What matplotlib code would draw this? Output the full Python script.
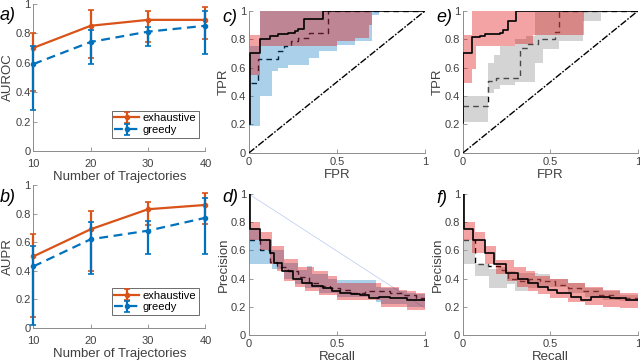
import numpy as np
import matplotlib
matplotlib.use("Agg")
from matplotlib import pyplot as plt

plt.rcParams['font.family'] = ['Liberation Sans', 'DejaVu Sans']

# ---- panels a/b: AUROC / AUPR vs number of trajectories ----
n_traj = [10, 20, 30, 40]

auroc_exh = [0.70, 0.85, 0.89, 0.89]
auroc_exh_lo = [0.41, 0.63, 0.74, 0.76]
auroc_exh_hi = [0.80, 0.96, 0.95, 0.98]
auroc_gre = [0.59, 0.74, 0.81, 0.85]
auroc_gre_lo = [0.28, 0.59, 0.71, 0.66]
auroc_gre_hi = [0.71, 0.82, 0.84, 0.95]

aupr_exh = [0.50, 0.69, 0.83, 0.86]
aupr_exh_lo = [0.08, 0.40, 0.72, 0.73]
aupr_exh_hi = [0.66, 0.82, 0.88, 0.94]
aupr_gre = [0.43, 0.62, 0.68, 0.77]
aupr_gre_lo = [0.02, 0.38, 0.52, 0.52]
aupr_gre_hi = [0.57, 0.74, 0.75, 0.91]

# ---- panel c: ROC exhaustive (solid, red band) vs greedy (dashed, blue band) ----
c_solid_x = [0.006, 0.006, 0.0625, 0.12, 0.167, 0.22, 0.26, 0.28, 0.31, 0.42, 1.0]
c_solid_y = [0.20, 0.706, 0.805, 0.82, 0.835, 0.847, 0.86, 0.873, 0.94, 1.0, 1.0]
c_dash_x = [0.011, 0.053, 0.167, 0.20, 0.24, 0.28, 0.34, 0.45, 1.0]
c_dash_y = [0.494, 0.663, 0.718, 0.75, 0.79, 0.81, 0.847, 1.0, 1.0]
c_red_x = [0, 0.06, 0.5, 0.6, 0.68, 0.70]
c_red_lo = [0.55, 0.75, 0.79, 0.81, 0.90, 0.90]
c_red_hi = [0.83, 1.0, 1.0, 1.0, 1.0, 1.0]
c_blue_x = [0, 0.0625, 0.13, 0.167, 0.22, 0.34, 0.40, 0.50, 0.60, 0.70, 0.74]
c_blue_lo = [0.19, 0.40, 0.58, 0.60, 0.62, 0.67, 0.72, 0.76, 0.79, 0.97, 0.97]
c_blue_hi = [0.75, 1.0, 1.0, 1.0, 1.0, 1.0, 1.0, 1.0, 1.0, 1.0, 1.0]

# ---- panel d: PR exhaustive vs greedy ----
d_solid_x = [0, 0.006, 0.0625, 0.12, 0.14, 0.19, 0.25, 0.30, 0.36, 0.42, 0.47, 0.52,
             0.58, 0.63, 0.68, 0.74, 0.80, 0.90, 1.0]
d_solid_y = [1.0, 0.75, 0.67, 0.58, 0.51, 0.45, 0.40, 0.37, 0.35, 0.33, 0.31, 0.30,
             0.29, 0.28, 0.26, 0.27, 0.26, 0.25, 0.25]
d_dash_x = [0, 0.06, 0.12, 0.16, 0.22, 0.28, 0.34, 0.40, 0.46, 0.52, 0.58, 0.66,
            0.72, 0.80, 0.88, 0.95, 1.0]
d_dash_y = [0.67, 0.60, 0.52, 0.48, 0.45, 0.41, 0.37, 0.35, 0.33, 0.32, 0.30, 0.31,
            0.31, 0.30, 0.28, 0.26, 0.25]
d_red_x = [0, 0.06, 0.12, 0.13, 0.16, 0.20, 0.26, 0.28, 0.32, 0.37, 0.40, 0.45, 0.50,
           0.75, 0.85, 0.90, 0.95, 1.0]
d_red_hi = [0.80, 0.73, 0.73, 0.63, 0.63, 0.54, 0.54, 0.48, 0.48, 0.45, 0.45, 0.42, 0.37,
            0.34, 0.32, 0.31, 0.30, 0.30]
d_red_lo = [0.67, 0.60, 0.50, 0.50, 0.45, 0.38, 0.34, 0.34, 0.31, 0.31, 0.28, 0.28, 0.25,
            0.20, 0.20, 0.18, 0.18, 0.18]
d_blue_x = [0, 0.06, 0.12, 0.13, 0.16, 0.20, 0.26, 0.28, 0.32, 0.33, 0.36, 0.40, 0.45,
            0.50, 0.72, 0.75, 0.85, 0.90, 0.95, 1.0]
d_blue_hi = [0.75, 0.67, 0.67, 0.60, 0.60, 0.51, 0.51, 0.46, 0.46, 0.49, 0.43, 0.43, 0.40,
             0.39, 0.34, 0.33, 0.31, 0.30, 0.29, 0.29]
d_blue_lo = [0.50, 0.50, 0.50, 0.47, 0.47, 0.40, 0.36, 0.36, 0.33, 0.33, 0.33, 0.30, 0.30,
             0.27, 0.23, 0.22, 0.22, 0.20, 0.20, 0.20]
d_ref_x = [0, 1]
d_ref_y = [1.0, 0.19]

# ---- panel e: ROC exhaustive (solid, red band) vs greedy (dashed, gray band) ----
e_solid_x = [0.0, 0.0, 0.051, 0.10, 0.124, 0.21, 0.23, 0.257, 0.305, 1.0]
e_solid_y = [0.21, 0.706, 0.816, 0.82, 0.835, 0.847, 0.863, 0.93, 1.0, 1.0]
e_dash_x = [0.0, 0.143, 0.19, 0.325, 0.37, 0.43, 0.525, 0.55, 1.0]
e_dash_y = [0.33, 0.506, 0.53, 0.74, 0.77, 0.80, 0.85, 1.0, 1.0]
e_red_x = [0, 0.05, 0.076, 0.30, 0.40, 0.69]
e_red_lo = [0.49, 0.59, 0.75, 0.77, 0.83, 0.83]
e_red_hi = [0.83, 1.0, 1.0, 1.0, 1.0, 1.0]
e_gray_x = [0, 0.143, 0.18, 0.21, 0.295, 0.36, 0.41, 0.46, 0.55, 0.685, 0.79]
e_gray_lo = [0.22, 0.42, 0.45, 0.48, 0.50, 0.50, 0.63, 0.73, 0.79, 0.93, 0.93]
e_gray_hi = [0.40, 0.635, 0.69, 0.75, 0.80, 0.82, 0.99, 0.99, 0.99, 1.0, 1.0]

# ---- panel f: PR exhaustive vs greedy ----
f_solid_x = [0, 0.006, 0.057, 0.124, 0.18, 0.248, 0.314, 0.37, 0.43, 0.486, 0.54, 0.62,
             0.676, 0.733, 0.84, 0.93, 1.0]
f_solid_y = [1.0, 0.75, 0.67, 0.58, 0.50, 0.44, 0.40, 0.37, 0.34, 0.32, 0.295, 0.27,
             0.25, 0.27, 0.26, 0.25, 0.25]
f_dash_x = [0, 0.067, 0.143, 0.21, 0.257, 0.324, 0.38, 0.438, 0.524, 0.60, 0.676, 0.77,
            0.867, 1.0]
f_dash_y = [0.67, 0.50, 0.49, 0.46, 0.40, 0.38, 0.40, 0.38, 0.355, 0.33, 0.31, 0.28,
            0.26, 0.26]
f_red_x = [0, 0.05, 0.067, 0.124, 0.19, 0.25, 0.29, 0.31, 0.36, 0.37, 0.41, 0.43, 0.5,
           0.6, 0.7, 0.8, 0.9, 1.0]
f_red_hi = [0.80, 0.80, 0.73, 0.63, 0.53, 0.53, 0.48, 0.48, 0.45, 0.45, 0.42, 0.42, 0.40,
            0.37, 0.34, 0.32, 0.30, 0.30]
f_red_lo = [0.67, 0.58, 0.58, 0.50, 0.43, 0.38, 0.38, 0.34, 0.34, 0.31, 0.31, 0.29, 0.26,
            0.23, 0.21, 0.20, 0.19, 0.19]
f_gray_x = [0, 0.07, 0.15, 0.20, 0.25, 0.30, 0.37, 0.43, 0.50, 0.60, 0.70, 0.80, 0.90, 1.0]
f_gray_hi = [0.67, 0.50, 0.47, 0.48, 0.45, 0.44, 0.44, 0.43, 0.40, 0.37, 0.33, 0.31, 0.28, 0.28]
f_gray_lo = [0.50, 0.42, 0.33, 0.33, 0.36, 0.31, 0.33, 0.35, 0.34, 0.30, 0.27, 0.25, 0.24, 0.24]

y_ticks = [0, 0.2, 0.4, 0.6, 0.8, 1]
y_ticklabels = ['0', '0.2', '0.4', '0.6', '0.8', '1']
x01_ticks = [0, 0.5, 1]
x01_ticklabels = ['0', '0.5', '1']

ORANGE = '#D95319'
BLUE = '#0072BD'
AXC = '#8c8c8c'
TXC = '#404040'


def style(ax, xpad=3):
    for s in ['top', 'right']:
        ax.spines[s].set_visible(False)
    for s in ['left', 'bottom']:
        ax.spines[s].set_color(AXC)
        ax.spines[s].set_linewidth(0.7)
    ax.tick_params(direction='in', length=3, width=0.6, color=AXC,
                   labelcolor=TXC, labelsize=8)
    ax.tick_params(axis='y', pad=2)
    ax.tick_params(axis='x', pad=xpad)
    ax.set_yticks(y_ticks)
    ax.set_yticklabels(y_ticklabels)
    ax.set_ylim(0, 1)


def score_panel(ax, exh, exh_lo, exh_hi, gre, gre_lo, gre_hi, ylabel):
    exh = np.array(exh)
    gre = np.array(gre)
    ax.errorbar(n_traj, exh, yerr=[exh - np.array(exh_lo), np.array(exh_hi) - exh],
                color=ORANGE, lw=1.6, elinewidth=1.6, capsize=2, capthick=1.2,
                marker='.', ms=6, label='exhaustive', clip_on=False, zorder=3)
    ax.errorbar(n_traj, gre, yerr=[gre - np.array(gre_lo), np.array(gre_hi) - gre],
                color=BLUE, lw=1.6, elinewidth=1.6, capsize=2, capthick=1.2,
                marker='.', ms=6, ls=(0, (4, 2.5)), label='greedy', clip_on=False, zorder=4)
    style(ax, xpad=6)
    ax.set_xlim(10, 40)
    ax.set_xticks(n_traj)
    ax.set_xticklabels([str(v) for v in n_traj])
    ax.set_xlabel('Number of Trajectories', fontsize=9.5, color=TXC, labelpad=1)
    ax.set_ylabel(ylabel, fontsize=9.5, color=TXC, labelpad=1)
    leg = ax.legend(loc='lower right', bbox_to_anchor=(0.96, 0.09), fontsize=8,
                    fancybox=False, framealpha=1, borderpad=0.25, labelspacing=0.15,
                    handlelength=2.2, handletextpad=0.3, borderaxespad=0)
    leg.get_frame().set_edgecolor('#555555')
    leg.get_frame().set_linewidth(0.6)


def band(ax, x, lo, hi, color, alpha):
    ax.fill_between(x, lo, hi, step='post', color=color, alpha=alpha, lw=0, zorder=2)


def curve_panel(ax, solid_x, solid_y, dash_x, dash_y, bands, xlabel, ylabel, roc):
    ax.plot(dash_x, dash_y, color='black', lw=1.0, ls=(0, (4, 3)),
            drawstyle='steps-post', zorder=1)
    for x, lo, hi, color, alpha in bands:
        band(ax, x, lo, hi, color, alpha)
    ax.plot(solid_x, solid_y, color='black', lw=1.2, drawstyle='steps-post', zorder=5)
    if roc:
        ax.plot([0, 1], [0, 1], color='black', lw=1.0, ls=(0, (5, 1.2, 1.2, 1.2)), zorder=5)
    style(ax)
    ax.set_xlim(0, 1)
    ax.set_xticks(x01_ticks)
    ax.set_xticklabels(x01_ticklabels)
    ax.set_xlabel(xlabel, fontsize=9.5, color=TXC, labelpad=1.5)
    ax.set_ylabel(ylabel, fontsize=9.5, color=TXC, labelpad=1)


fig = plt.figure(figsize=(6.4, 3.64), dpi=100)

ax_a = fig.add_axes([0.052, 0.585, 0.269, 0.405])
ax_b = fig.add_axes([0.052, 0.099, 0.269, 0.393])
ax_c = fig.add_axes([0.389, 0.580, 0.275, 0.390])
ax_d = fig.add_axes([0.389, 0.080, 0.275, 0.387])
ax_e = fig.add_axes([0.7234, 0.580, 0.2734, 0.390])
ax_f = fig.add_axes([0.7234, 0.080, 0.2734, 0.387])

score_panel(ax_a, auroc_exh, auroc_exh_lo, auroc_exh_hi,
            auroc_gre, auroc_gre_lo, auroc_gre_hi, 'AUROC')
score_panel(ax_b, aupr_exh, aupr_exh_lo, aupr_exh_hi,
            aupr_gre, aupr_gre_lo, aupr_gre_hi, 'AUPR')

RED = '#e00000'
LBLUE = '#0072BD'
GRAY = '#a0a0a0'

curve_panel(ax_c, c_solid_x, c_solid_y, c_dash_x, c_dash_y,
            [(c_blue_x, c_blue_lo, c_blue_hi, LBLUE, 0.33),
             (c_red_x, c_red_lo, c_red_hi, RED, 0.36)], 'FPR', 'TPR', True)
ax_d.plot(d_ref_x, d_ref_y, color='#b8c8f0', lw=0.5, zorder=1)
curve_panel(ax_d, d_solid_x, d_solid_y, d_dash_x, d_dash_y,
            [(d_blue_x, d_blue_lo, d_blue_hi, LBLUE, 0.33),
             (d_red_x, d_red_lo, d_red_hi, RED, 0.36)], 'Recall', 'Precision', False)
curve_panel(ax_e, e_solid_x, e_solid_y, e_dash_x, e_dash_y,
            [(e_gray_x, e_gray_lo, e_gray_hi, GRAY, 0.45),
             (e_red_x, e_red_lo, e_red_hi, RED, 0.36)], 'FPR', 'TPR', True)
curve_panel(ax_f, f_solid_x, f_solid_y, f_dash_x, f_dash_y,
            [(f_gray_x, f_gray_lo, f_gray_hi, GRAY, 0.45),
             (f_red_x, f_red_lo, f_red_hi, RED, 0.36)], 'Recall', 'Precision', False)

for lab, x, y in [('a)', 0.0, 0.958), ('b)', 0.0, 0.458), ('c)', 0.347, 0.953),
                  ('d)', 0.347, 0.458), ('e)', 0.682, 0.953), ('f)', 0.682, 0.456)]:
    fig.text(x, y, lab, fontsize=13, style='italic', va='center', ha='left')

fig.savefig('out.png', dpi=100)
